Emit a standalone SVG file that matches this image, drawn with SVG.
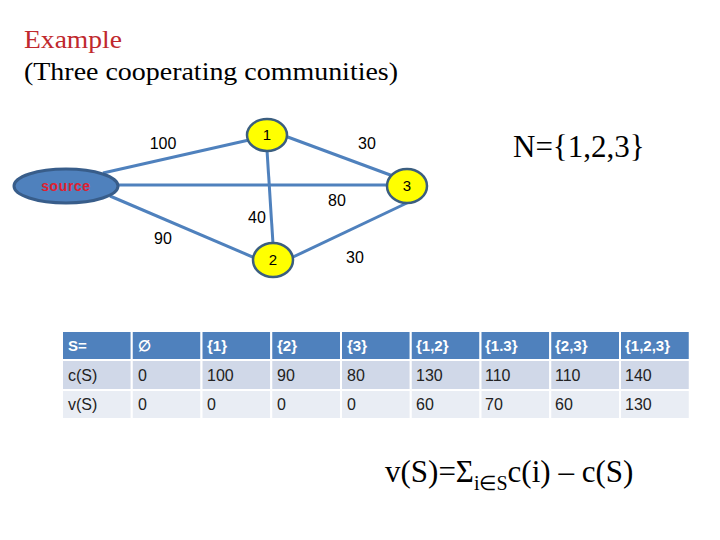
<svg xmlns="http://www.w3.org/2000/svg" width="720" height="540" viewBox="0 0 720 540">
<style>
.title{font-family:"Liberation Serif",serif;font-size:26px}
.edge{stroke:#4F81BD;stroke-width:3;fill:none}
.node{fill:#FFFF00;stroke:#3B5E80;stroke-width:2.5}
.src{fill:#4F81BD;stroke:#385D8A;stroke-width:3}
.nl{font-family:"Liberation Sans",sans-serif;font-size:15px;text-anchor:middle;fill:#000}
.el{font-family:"Liberation Sans",sans-serif;font-size:16px;text-anchor:middle;fill:#000}
.hd{fill:#4F81BD;stroke:#fff;stroke-width:2}
.r1{fill:#D0D8E8;stroke:#fff;stroke-width:2}
.r2{fill:#E9EDF4;stroke:#fff;stroke-width:2}
.ht{font-family:"Liberation Sans",sans-serif;font-size:15px;font-weight:bold;fill:#fff}
.bt{font-family:"Liberation Sans",sans-serif;font-size:16px;fill:#222}
.big{font-family:"Liberation Serif",serif;font-size:31px;fill:#000}
</style>
<text class="title" x="24" y="48" fill="#C0282D" textLength="98" lengthAdjust="spacingAndGlyphs">Example</text>
<text class="title" x="24" y="80" fill="#000" textLength="374" lengthAdjust="spacingAndGlyphs">(Three cooperating communities)</text>
<text class="big" x="513" y="157">N={1,2,3}</text>
<g id="connectors">
<line class="edge" x1="103" y1="173" x2="249" y2="140"/>
<line class="edge" x1="285" y1="136" x2="393" y2="176"/>
<line class="edge" x1="116" y1="185" x2="389" y2="185"/>
<line class="edge" x1="267" y1="150" x2="273" y2="244"/>
<line class="edge" x1="110" y1="196" x2="255" y2="258"/>
<line class="edge" x1="291" y1="258" x2="409" y2="202"/>
</g>
<g id="edge-labels">
<text class="el" x="163" y="149">100</text>
<text class="el" x="367" y="149">30</text>
<text class="el" x="337" y="206">80</text>
<text class="el" x="257" y="223">40</text>
<text class="el" x="163" y="244">90</text>
<text class="el" x="355" y="263">30</text>
</g>
<g id="source">
<ellipse class="src" cx="66" cy="186" rx="52" ry="17"/>
<text x="66" y="191" font-family="Liberation Sans,sans-serif" font-size="14" font-weight="bold" fill="#E02030" text-anchor="middle" letter-spacing="0.6">source</text>
</g>
<g id="node1">
<ellipse class="node" cx="267" cy="135" rx="20" ry="16"/>
<text class="nl" x="267" y="140">1</text>
</g>
<g id="node2">
<ellipse class="node" cx="273" cy="260" rx="20" ry="17"/>
<text class="nl" x="273" y="265">2</text>
</g>
<g id="node3">
<ellipse class="node" cx="407" cy="186" rx="20" ry="17"/>
<text class="nl" x="407" y="191">3</text>
</g>
<g id="table">
<rect class="hd" x="62" y="331" width="69.75" height="29"/>
<rect class="hd" x="131.75" y="331" width="69.75" height="29"/>
<rect class="hd" x="201.5" y="331" width="69.75" height="29"/>
<rect class="hd" x="271.25" y="331" width="69.75" height="29"/>
<rect class="hd" x="341" y="331" width="69.75" height="29"/>
<rect class="hd" x="410.75" y="331" width="69.75" height="29"/>
<rect class="hd" x="480.5" y="331" width="69.75" height="29"/>
<rect class="hd" x="550.25" y="331" width="69.75" height="29"/>
<rect class="hd" x="620" y="331" width="69.75" height="29"/>
<rect class="r1" x="62" y="360" width="69.75" height="30"/>
<rect class="r1" x="131.75" y="360" width="69.75" height="30"/>
<rect class="r1" x="201.5" y="360" width="69.75" height="30"/>
<rect class="r1" x="271.25" y="360" width="69.75" height="30"/>
<rect class="r1" x="341" y="360" width="69.75" height="30"/>
<rect class="r1" x="410.75" y="360" width="69.75" height="30"/>
<rect class="r1" x="480.5" y="360" width="69.75" height="30"/>
<rect class="r1" x="550.25" y="360" width="69.75" height="30"/>
<rect class="r1" x="620" y="360" width="69.75" height="30"/>
<rect class="r2" x="62" y="390" width="69.75" height="29"/>
<rect class="r2" x="131.75" y="390" width="69.75" height="29"/>
<rect class="r2" x="201.5" y="390" width="69.75" height="29"/>
<rect class="r2" x="271.25" y="390" width="69.75" height="29"/>
<rect class="r2" x="341" y="390" width="69.75" height="29"/>
<rect class="r2" x="410.75" y="390" width="69.75" height="29"/>
<rect class="r2" x="480.5" y="390" width="69.75" height="29"/>
<rect class="r2" x="550.25" y="390" width="69.75" height="29"/>
<rect class="r2" x="620" y="390" width="69.75" height="29"/>
<text class="ht" x="68" y="351">S=</text>
<text class="ht" x="138" y="351">∅</text>
<text class="ht" x="207" y="351">{1}</text>
<text class="ht" x="277" y="351">{2}</text>
<text class="ht" x="347" y="351">{3}</text>
<text class="ht" x="416" y="351">{1,2}</text>
<text class="ht" x="485" y="351">{1.3}</text>
<text class="ht" x="555" y="351">{2,3}</text>
<text class="ht" x="625" y="351">{1,2,3}</text>
<text class="bt" x="68" y="381">c(S)</text>
<text class="bt" x="138" y="381">0</text>
<text class="bt" x="207" y="381">100</text>
<text class="bt" x="277" y="381">90</text>
<text class="bt" x="347" y="381">80</text>
<text class="bt" x="416" y="381">130</text>
<text class="bt" x="485" y="381">110</text>
<text class="bt" x="555" y="381">110</text>
<text class="bt" x="625" y="381">140</text>
<text class="bt" x="68" y="410">v(S)</text>
<text class="bt" x="138" y="410">0</text>
<text class="bt" x="207" y="410">0</text>
<text class="bt" x="277" y="410">0</text>
<text class="bt" x="347" y="410">0</text>
<text class="bt" x="416" y="410">60</text>
<text class="bt" x="485" y="410">70</text>
<text class="bt" x="555" y="410">60</text>
<text class="bt" x="625" y="410">130</text>
</g>
<text class="big" x="385" y="482">v(S)=Σ<tspan font-size="20" dy="8">i∈S</tspan><tspan dy="-8">c(i) – c(S)</tspan></text>
</svg>
